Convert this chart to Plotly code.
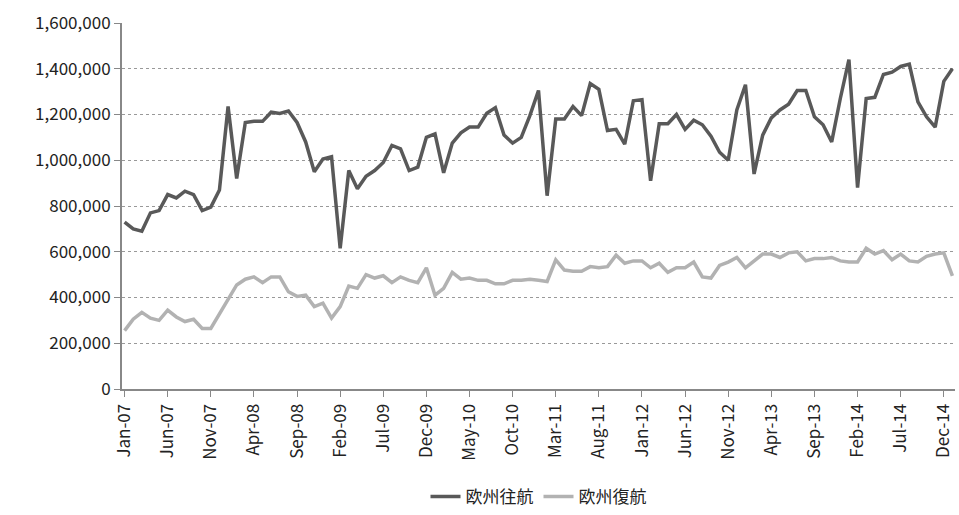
import plotly.graph_objects as go
import pandas as pd

months = pd.date_range("2007-01-01", "2015-01-01", freq="MS").strftime("%b-%y").tolist()

outbound = [
    730, 700, 690, 770, 780, 850, 835, 865, 850, 780, 795, 870,
    1235, 920, 1165, 1170, 1170, 1210, 1205, 1215, 1165, 1080, 950, 1005,
    1015, 615, 955, 875, 930, 955, 990, 1065, 1050, 955, 970, 1100,
    1115, 945, 1075, 1120, 1145, 1145, 1205, 1230, 1110, 1075, 1100, 1195,
    1305, 845, 1180, 1180, 1235, 1195, 1335, 1310, 1130, 1135, 1070, 1260,
    1265, 910, 1160, 1160, 1200, 1135, 1175, 1155, 1105, 1035, 1000, 1220,
    1330, 940, 1110, 1185, 1220, 1245, 1305, 1305, 1190, 1155, 1080, 1270,
    1440, 880, 1270, 1275, 1375, 1385, 1410, 1420, 1255, 1190, 1145, 1345,
    1400,
]
inbound = [
    255, 305, 335, 310, 300, 345, 315, 295, 305, 265, 265, 330,
    390, 455, 480, 490, 465, 490, 490, 425, 405, 410, 360, 375,
    310, 360, 450, 440, 500, 485, 495, 465, 490, 475, 465, 530,
    410, 440, 510, 480, 485, 475, 475, 460, 460, 475, 475, 480,
    475, 470, 565, 520, 515, 515, 535, 530, 535, 585, 550, 560,
    560, 530, 550, 510, 530, 530, 555, 490, 485, 540, 555, 575,
    530, 560, 590, 590, 575, 595, 600, 560, 570, 570, 575, 560,
    555, 555, 615, 590, 605, 565, 590, 560, 555, 580, 590, 595,
    495,
]
outbound = [v * 1000 for v in outbound]
inbound = [v * 1000 for v in inbound]
idx = list(range(len(months)))

fig = go.Figure()
fig.add_trace(go.Scatter(x=idx, y=outbound, name="欧州往航", mode="lines",
                         line=dict(color="#595959", width=3.5), cliponaxis=False))
fig.add_trace(go.Scatter(x=idx, y=inbound, name="欧州復航", mode="lines",
                         line=dict(color="#b2b2b2", width=3.5), cliponaxis=False))

fig.update_layout(
    width=959, height=515,
    paper_bgcolor="white", plot_bgcolor="white",
    margin=dict(l=122, r=4, t=23, b=126),
    font=dict(family="Noto Sans CJK JP, Noto Sans", size=17, color="#222"),
    legend=dict(orientation="h", x=0.5, xanchor="center", y=0.0, yanchor="bottom",
                yref="container", font=dict(size=17)),
    showlegend=True,
)
fig.update_xaxes(
    tickvals=idx[::5], ticktext=months[::5], tickangle=-90, automargin=False,
    showline=True, linecolor="#888", linewidth=2, ticks="outside", ticklen=6,
    tickcolor="#888", showgrid=False, zeroline=False, range=[-0.3, len(months) - 0.7],
)
fig.update_yaxes(
    range=[0, 1600000], dtick=200000, tickformat=",", showline=True, automargin=False,
    linecolor="#888", linewidth=2, ticks="outside", ticklen=6, tickcolor="#888",
    gridcolor="#999", griddash="dot", gridwidth=1, zeroline=False,
)

fig.write_html("out.html", config={"displayModeBar": False},
               default_width="959px", default_height="515px")
html = open("out.html", encoding="utf-8").read()
html = html.replace("<head>", "<head><style>html,body{margin:0;padding:0;overflow:hidden}</style>", 1)
open("out.html", "w", encoding="utf-8").write(html)
